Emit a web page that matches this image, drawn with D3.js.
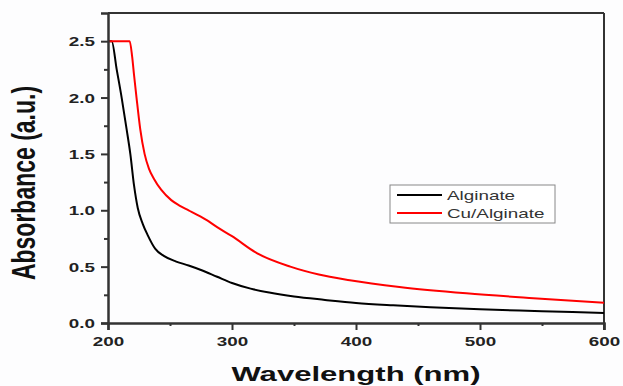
<!DOCTYPE html>
<html>
<head>
<meta charset="utf-8">
<script src="https://cdn.jsdelivr.net/npm/d3@7"></script>
<style>
  html, body { margin: 0; padding: 0; background: #ffffff; }
  svg { display: block; }
</style>
</head>
<body>
<svg id="chart" width="623" height="386"></svg>
<script>
// ---- data ----
const seriesNames = ["Alginate", "Cu/Alginate"];
const seriesColors = ["#000000", "#ff0000"];

const alginateWavelength = [200, 203, 207, 211, 215, 218, 221, 224, 228, 232, 238, 245, 255, 265, 275, 288, 300, 315, 330, 350, 375, 400, 430, 460, 500, 550, 600];
const alginateAbs        = [2.5, 2.5, 2.25, 2.0, 1.72, 1.5, 1.22, 1.02, 0.88, 0.78, 0.66, 0.595, 0.545, 0.51, 0.47, 0.41, 0.355, 0.305, 0.27, 0.235, 0.205, 0.178, 0.157, 0.14, 0.122, 0.105, 0.088];

const cuWavelength = [200, 217.5, 219.5, 221, 223, 226, 229.5, 233, 237, 243, 251, 258, 265, 272, 280, 288, 300, 320, 347, 370, 395, 435, 489, 543, 600];
const cuAbs        = [2.5, 2.5, 2.36, 2.2, 2.0, 1.72, 1.5, 1.37, 1.28, 1.18, 1.09, 1.04, 1.0, 0.96, 0.91, 0.85, 0.77, 0.62, 0.5, 0.43, 0.38, 0.32, 0.263, 0.22, 0.18];

const xTicks = [200, 300, 400, 500, 600];
const xMinorTicks = [250, 350, 450, 550];
const yTicks = [0.0, 0.5, 1.0, 1.5, 2.0, 2.5];
const yMinorTicks = [0.25, 0.75, 1.25, 1.75, 2.25];
const xDomain = [200, 600];
const yDomain = [0, 2.75];
const xTitle = "Wavelength (nm)";
const yTitle = "Absorbance (a.u.)";

// ---- layout ----
const svg = d3.select("#chart");
const L = 108, R = 604, T = 13, B = 323;
const SX = 1.45; // horizontal stretch of the reference's text
const axisColor = "#333333";
const font = "'Liberation Sans', Arial, sans-serif";

const x = d3.scaleLinear().domain(xDomain).range([L, R]);
const y = d3.scaleLinear().domain(yDomain).range([B, T]);

svg.append("rect").attr("x", 0).attr("y", 0).attr("width", 623).attr("height", 386).attr("fill", "#fdfdfe");

// frame top/right
svg.append("line").attr("x1", L).attr("x2", R).attr("y1", T).attr("y2", T)
  .attr("stroke", axisColor).attr("stroke-width", 2);
svg.append("line").attr("x1", R).attr("x2", R).attr("y1", T).attr("y2", B + 7)
  .attr("stroke", axisColor).attr("stroke-width", 2);

// curves
const line = d3.line().x(d => x(d[0])).y(d => y(d[1])).curve(d3.curveMonotoneX);
const series = [
  d3.zip(alginateWavelength, alginateAbs),
  d3.zip(cuWavelength, cuAbs)
];
series.forEach((s, i) => {
  svg.append("path").datum(s).attr("d", line)
    .attr("fill", "none").attr("stroke", seriesColors[i]).attr("stroke-width", 2)
    .attr("stroke-linejoin", "round");
});

// x axis
const gx = svg.append("g").attr("transform", `translate(0,${B})`);
gx.call(d3.axisBottom(x).tickValues(xTicks).tickSize(7).tickPadding(0).tickFormat(d3.format("d")));
const gxm = svg.append("g").attr("transform", `translate(0,${B})`);
gxm.call(d3.axisBottom(x).tickValues(xMinorTicks).tickSize(3).tickFormat(""));
gxm.select(".domain").remove();

// y axis
const gy = svg.append("g").attr("transform", `translate(${L},0)`);
gy.call(d3.axisLeft(y).tickValues(yTicks).tickSize(7).tickFormat(d3.format(".1f")));
const gym = svg.append("g").attr("transform", `translate(${L},0)`);
gym.call(d3.axisLeft(y).tickValues(yMinorTicks).tickSize(4).tickFormat(""));
gym.select(".domain").remove();

[gx, gxm, gy, gym].forEach(g => {
  g.selectAll(".domain").attr("stroke", axisColor).attr("stroke-width", 2.5);
  g.selectAll(".tick line").attr("stroke", axisColor).attr("stroke-width", 2);
});

gx.selectAll(".tick text")
  .attr("y", 14).attr("dy", "0.71em")
  .attr("transform", `scale(${SX},1)`)
  .style("font-family", font).style("font-weight", "bold").style("font-size", "13px")
  .attr("fill", "#222");

gy.selectAll(".tick text")
  .attr("x", -13 / SX).attr("dy", "0.35em")
  .attr("transform", `scale(${SX},1)`)
  .style("font-family", font).style("font-weight", "bold").style("font-size", "13px")
  .attr("fill", "#222");

// axis titles
svg.append("text")
  .attr("transform", `translate(${(L + R) / 2},381) scale(1.48,1)`)
  .attr("text-anchor", "middle")
  .style("font-family", font).style("font-weight", "bold").style("font-size", "21px")
  .attr("fill", "#111").text(xTitle);

svg.append("text")
  .attr("transform", `translate(35,183) scale(${SX},1) rotate(-90)`)
  .attr("text-anchor", "middle")
  .style("font-family", font).style("font-weight", "bold").style("font-size", "23px")
  .attr("fill", "#111").text(yTitle);

// legend
const lg = svg.append("g");
lg.append("rect").attr("x", 390).attr("y", 185).attr("width", 165).attr("height", 38)
  .attr("fill", "#ffffff").attr("stroke", "#888").attr("stroke-width", 1);
const legendRows = [195, 213];
seriesNames.forEach((name, i) => {
  lg.append("line").attr("x1", 397).attr("x2", 442).attr("y1", legendRows[i]).attr("y2", legendRows[i])
    .attr("stroke", seriesColors[i]).attr("stroke-width", 2);
  lg.append("text")
    .attr("transform", `translate(447,${legendRows[i] + 5}) scale(${SX},1)`)
    .style("font-family", font).style("font-size", "13px")
    .attr("fill", "#333").text(name);
});
</script>
</body>
</html>
